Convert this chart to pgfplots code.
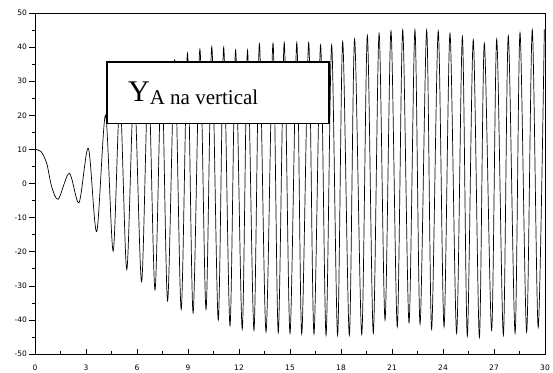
\documentclass[border=0pt]{standalone}
\usepackage{pgfplots}
\pgfplotsset{compat=1.18}
\usepackage{fontspec}
\setmainfont{Liberation Serif}
\newfontfamily\tickfont{DejaVu Sans}
\begin{document}
\begin{tikzpicture}
\begin{axis}[
  name=ax,
  scale only axis,
  width=510pt, height=341pt,
  xmin=0, xmax=30, ymin=-50, ymax=50,
  xtick={0,3,...,30}, ytick={-50,-40,...,50},
  minor x tick num=1, minor y tick num=1,
  xtick pos=bottom, ytick pos=left,
  tick align=inside,
  major tick length=6pt, minor tick length=3pt,
  every major y tick/.append style={xshift=-6pt},
  every minor y tick/.append style={xshift=-3pt},
  every major x tick/.append style={yshift=-1pt},
  tick style={black, line width=0.6pt},
  axis line style={black, line width=0.7pt},
  /pgf/number format/assume math mode=true,
  tick label style={font=\tickfont\fontsize{7.5}{8}\selectfont, inner sep=0pt},
  yticklabel style={anchor=east, xshift=-8pt},
  xticklabel style={anchor=north, yshift=-11pt},
]
\addplot[black, line width=0.7pt, smooth, tension=0.5] coordinates {
(0,10) (0.35,9.4) (0.69,5.9) (0.98,-0.9) (1.37,-4.6)
(2.02,3.0) (2.59,-5.6) (3.14,10.3) (3.63,-14.1) (4.15,20)
(4.6,-19.8) (5.0,25) (5.4,-25.2) (5.83,28.5) (6.27,-28.8)
(6.67,31.5) (7.06,-31.2) (7.45,34) (7.8,-34.4) (8.22,36.2)
(8.6,-36.9) (8.97,38.2) (9.3,-37.9) (9.7,39.4) (10.06,-36.9)
(10.4,40.1) (10.78,-40.0) (11.1,39.9) (11.47,-41.7) (11.8,39.1)
(12.19,-42.7) (12.5,39.1) (12.88,-43.0) (13.2,40.9) (13.59,-43.5)
(14.0,41.1) (14.31,-43.7) (14.66,41.3) (15.0,-43.9) (15.4,41.3)
(15.69,-44.1) (16.1,41.3) (16.41,-44.1) (16.8,40.6) (17.12,-44.5)
(17.45,40.6) (17.8,-44.5) (18.1,41.6) (18.49,-44.5) (18.8,42.3)
(19.22,-44.2) (19.55,43.4) (19.9,-43.9) (20.24,44.0) (20.59,-40.0)
(20.94,44.7) (21.31,-42.0) (21.63,45.0) (22.0,-40.8) (22.35,45.0)
(22.65,-41.2) (23.04,45.0) (23.33,-42.7) (23.72,44.7) (24.06,-42.0)
(24.41,44.0) (24.8,-43.9) (25.14,43.1) (25.43,-44.7) (25.78,42.1)
(26.14,-45.1) (26.43,41.1) (26.86,-43.0) (27.16,42.3) (27.55,-44.5)
(27.84,43.3) (28.24,-43.9) (28.53,44.2) (28.92,-43.5) (29.25,45.0)
(29.6,-42.2) (29.96,45.2)
};
\draw[black, fill=white, line width=1.6pt] (axis cs:4.22,17.65) rectangle (axis cs:17.3,35.7);
\node[anchor=base west, inner sep=0pt] at (axis cs:5.47,24.0)
  {\fontsize{30}{30}\selectfont Y\raisebox{-3.3pt}{\fontsize{21}{21}\selectfont A na vertical}};
\end{axis}
\pgfresetboundingbox
\path ([shift={(-35pt,-18pt)}]ax.south west) rectangle ([shift={(8pt,13pt)}]ax.north east);
\end{tikzpicture}
\end{document}
